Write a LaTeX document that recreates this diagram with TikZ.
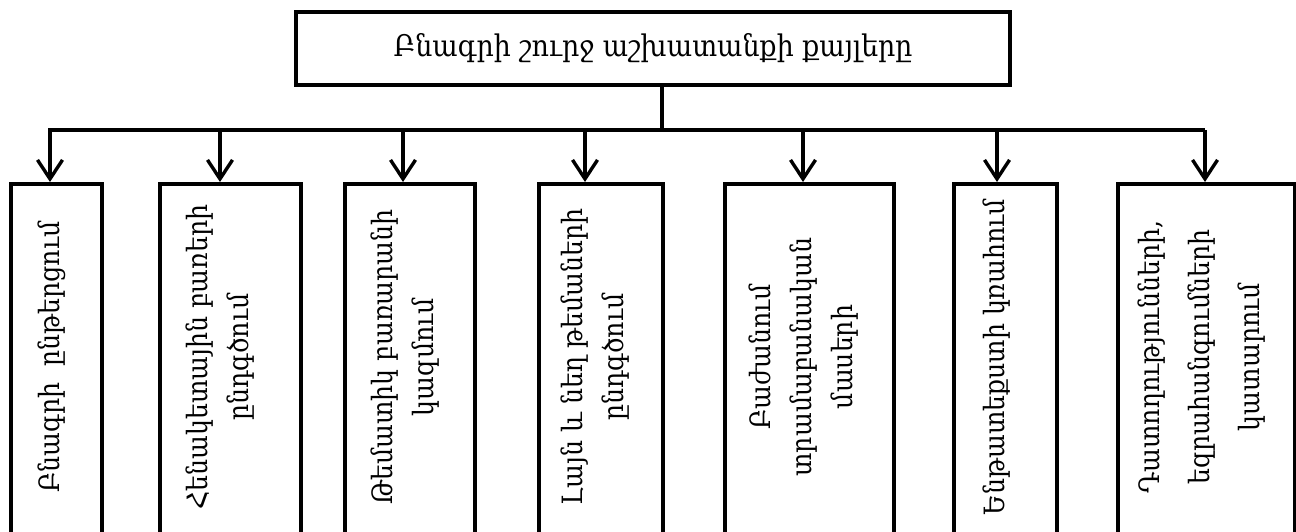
\documentclass[tikz,border=0pt]{standalone}
\usepackage{fontspec}
\setmainfont[FakeStretch=0.9]{DejaVu Serif}
\usetikzlibrary{arrows.meta}
\tikzset{
  topbox/.style={draw, line width=4.5pt, minimum width=714pt, minimum height=73pt, inner sep=0pt},
  stepbox/.style={draw, line width=4.2pt, inner sep=0pt, anchor=north west},
  vtext/.style={rotate=90, align=center, inner sep=0pt, font=\fontsize{28}{41}\selectfont},
  conn/.style={line width=3.4pt},
  arr/.style={conn, -{Straight Barb[length=19pt,width=25pt,line width=3.4pt]}}
}
\begin{document}
\begin{tikzpicture}[x=1pt,y=-1pt]
\useasboundingbox (0,0) rectangle (1296,531);
\clip (0,0) rectangle (1296,531);
\node[topbox, font=\fontsize{29.8}{34}\selectfont] (top) at (653,48.5) {Բնագրի շուրջ աշխատանքի քայլերը};
% boxes
\node[stepbox, minimum width=91pt,  minimum height=358pt] (b1) at (9,182) {};
\node[stepbox, minimum width=141pt, minimum height=358pt] (b2) at (158,182) {};
\node[stepbox, minimum width=130pt, minimum height=358pt] (b3) at (343,182) {};
\node[stepbox, minimum width=124pt, minimum height=358pt] (b4) at (537,182) {};
\node[stepbox, minimum width=169pt, minimum height=358pt] (b5) at (723,182) {};
\node[stepbox, minimum width=103pt, minimum height=358pt] (b6) at (952,182) {};
\node[stepbox, minimum width=177pt, minimum height=358pt] (b7) at (1116,182) {};
% texts
\node[vtext] (t1) at (52,357) {Բնագրի\ \ ընթերցում};
\node[vtext] (t2) at (220,357) {Հենակետային բառերի\\ընդգծում};
\node[vtext] (t3) at (405,357) {Թեմատիկ բառարանի\\կազմում};
\node[vtext] (t4) at (595,357) {Լայն և նեղ թեմաների\\ընդգծում};
\node[vtext] (t5) at (804,357) {Բաժանում\\տրամաբանական\\մասերի};
\node[vtext] (t6) at (997,357) {Ենթատեքստի կռահում};
\node[vtext, font=\fontsize{28}{50}\selectfont] (t7) at (1202,357) {Դատողությունների,\\եզրահանգումների\\կատարում};
% connectors
\coordinate (busL) at (48,130);
\coordinate (busR) at (1205,130);
\coordinate (a1) at (50,130);
\coordinate (a2) at (220,130);
\coordinate (a3) at (403,130);
\coordinate (a4) at (585,130);
\coordinate (a5) at (803,130);
\coordinate (a6) at (997,130);
\coordinate (a7) at (1205,130);
\draw[conn] (top.south -| 662,0) -- (662,130);
\draw[conn] (busL) -- (busR);
\draw[arr] (a1) -- (a1 |- b1.north);
\draw[arr] (a2) -- (a2 |- b2.north);
\draw[arr] (a3) -- (a3 |- b3.north);
\draw[arr] (a4) -- (a4 |- b4.north);
\draw[arr] (a5) -- (a5 |- b5.north);
\draw[arr] (a6) -- (a6 |- b6.north);
\draw[arr] (a7) -- (a7 |- b7.north);
\end{tikzpicture}
\end{document}
